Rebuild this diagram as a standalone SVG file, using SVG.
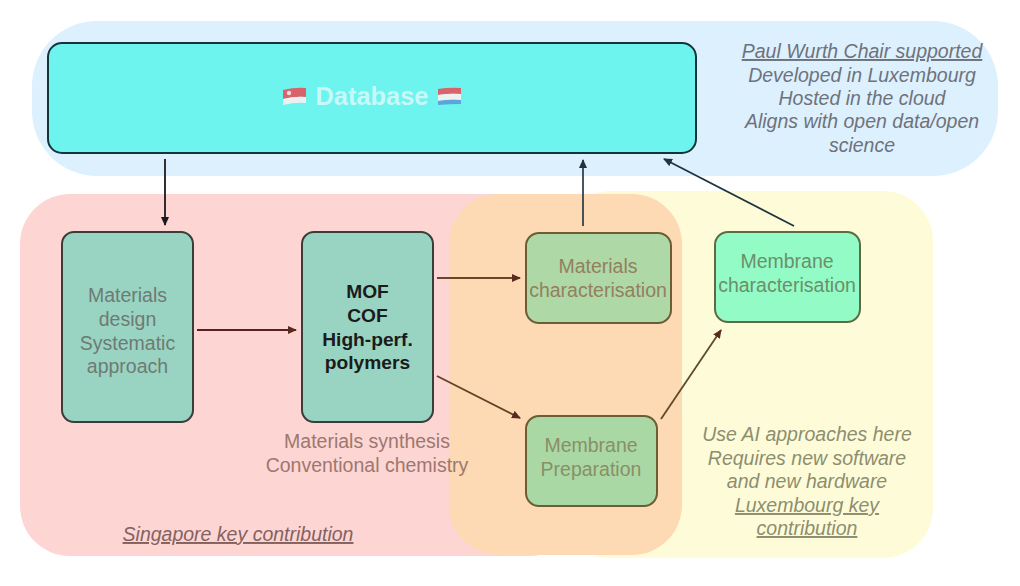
<svg xmlns="http://www.w3.org/2000/svg" width="1020" height="586" viewBox="0 0 1020 586">
<style>
text{font-family:"Liberation Sans",Arial,sans-serif;font-size:19.500px;text-anchor:middle}
.n{stroke-width:2}
.it{font-style:italic}
.u{text-decoration:underline}
.b{font-size:19.200px;font-weight:bold;fill:#1c1a1a}
.g1{fill:#6f7a74}
.g2{fill:#93805f}
.g3{fill:#6b8f6b}
.g4{fill:#8d8e70}
.g5{fill:#6f727a}
.g6{fill:#9c7870}
.c{fill:none;stroke-width:1.800}
</style>
<defs>
<marker id="a1" markerWidth="10" markerHeight="8" refX="8" refY="4" orient="auto" markerUnits="userSpaceOnUse"><path d="M0 0L9 4L0 8Z" fill="#1a1a1a"/></marker>
<marker id="a2" markerWidth="10" markerHeight="8" refX="8" refY="4" orient="auto" markerUnits="userSpaceOnUse"><path d="M0 0L9 4L0 8Z" fill="#5a2a1e"/></marker>
<marker id="a3" markerWidth="10" markerHeight="8" refX="8" refY="4" orient="auto" markerUnits="userSpaceOnUse"><path d="M0 0L9 4L0 8Z" fill="#1f3440"/></marker>
</defs>
<rect width="1020" height="586" fill="#fff"/>
<g id="region-cloud"><rect x="32" y="21" width="966" height="155" rx="65" fill="#dcf0fe"/></g>
<g id="region-singapore"><rect x="20" y="194" width="560" height="362" rx="50" fill="#fdd5d3"/></g>
<g id="region-luxembourg"><rect x="560" y="191" width="373" height="367" rx="50" fill="#fefcd8"/></g>
<g id="region-overlap"><rect x="449" y="194" width="233" height="361" rx="50" fill="#fdd9b4"/></g>
<g id="database">
<rect class="n" x="48" y="43" width="648" height="110" rx="14" fill="#6df4ee" stroke="#17333a"/>
<text x="372" y="105" style="font-size:25.400px;font-weight:bold" fill="#c8f8f8">Database</text>
<g id="flag-sg"><path d="M283 90Q295 87 306 88V97Q295 96 283 99Z" fill="#d9636a"/><path d="M283 99Q295 96 306 97V103Q295 102 283 105Z" fill="#eef0f0"/><circle cx="289" cy="93" r="2.200" fill="#f1d6d6"/></g>
<g id="flag-lu"><path d="M438 89Q450 87 461 88V94Q450 93 438 95Z" fill="#d9636a"/><path d="M438 95Q450 93 461 94V100Q450 99 438 101Z" fill="#eef0f0"/><path d="M438 101Q450 99 461 100V104Q450 104 438 105Z" fill="#5aa6dc"/></g>
</g>
<g id="note-cloud" class="it g5">
<text x="862" y="58" class="u">Paul Wurth Chair supported</text>
<text x="862" y="82">Developed in Luxembourg</text>
<text x="862" y="105">Hosted in the cloud</text>
<text x="862" y="128">Aligns with open data/open</text>
<text x="862" y="152">science</text>
</g>
<g id="materials-design">
<rect class="n" x="62" y="232" width="131" height="190" rx="12" fill="#98d4c1" stroke="#3a3d3a"/>
<g class="g1"><text x="127.500" y="302">Materials</text><text x="127.500" y="326">design</text><text x="127.500" y="350">Systematic</text><text x="127.500" y="373">approach</text></g>
</g>
<g id="polymers">
<rect class="n" x="302" y="232" width="131" height="190" rx="12" fill="#98d4c1" stroke="#3a3d3a"/>
<text class="b" x="367.500" y="298">MOF</text><text class="b" x="367.500" y="322">COF</text><text class="b" x="367.500" y="346">High-perf.</text><text class="b" x="367.500" y="369">polymers</text>
</g>
<g id="synthesis-label" class="g6">
<text x="367" y="448">Materials synthesis</text>
<text x="367" y="472">Conventional chemistry</text>
</g>
<g id="materials-characterisation">
<rect class="n" x="526" y="233" width="145" height="90" rx="13" fill="#aed8a5" stroke="#6b5e35"/>
<g class="g2"><text x="598" y="273">Materials</text><text x="598" y="297">characterisation</text></g>
</g>
<g id="membrane-characterisation">
<rect class="n" x="715" y="232" width="145" height="90" rx="13" fill="#93fcc6" stroke="#5c6b45"/>
<g class="g3"><text x="787" y="268">Membrane</text><text x="787" y="292">characterisation</text></g>
</g>
<g id="membrane-preparation">
<rect class="n" x="526" y="416" width="131" height="90" rx="13" fill="#a9d8a5" stroke="#6b5e35"/>
<g style="fill:#8a8f66"><text x="591" y="452">Membrane</text><text x="591" y="476">Preparation</text></g>
</g>
<g id="note-singapore"><text x="238" y="541" class="it u" fill="#85625f">Singapore key contribution</text></g>
<g id="note-luxembourg" class="it g4">
<text x="807" y="441">Use AI approaches here</text>
<text x="807" y="465">Requires new software</text>
<text x="807" y="488">and new hardware</text>
<text x="807" y="512" class="u">Luxembourg key</text>
<text x="807" y="535" class="u">contribution</text>
</g>
<g id="connectors">
<path class="c" d="M165 159V225" stroke="#1a1a1a" marker-end="url(#a1)"/>
<path class="c" d="M197 330H296" stroke="#5a2020" marker-end="url(#a2)"/>
<path class="c" d="M437 278H520" stroke="#6b4528" marker-end="url(#a2)"/>
<path class="c" d="M437 376L520 418" stroke="#5f4325" marker-end="url(#a2)"/>
<path class="c" d="M661 419L721 330" stroke="#5f4a2a" marker-end="url(#a2)"/>
<path class="c" d="M583 226V160" stroke="#37424a" marker-end="url(#a3)"/>
<path class="c" d="M794 226L664 159" stroke="#1f3440" marker-end="url(#a3)"/>
</g>
</svg>
